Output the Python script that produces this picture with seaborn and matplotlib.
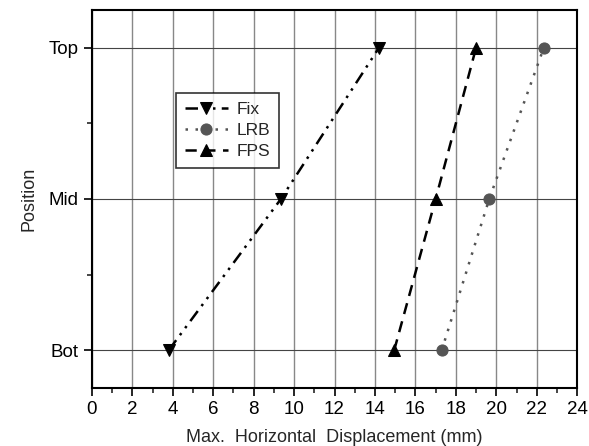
import matplotlib
matplotlib.use("Agg")
import matplotlib.pyplot as plt
import seaborn as sns
from matplotlib.ticker import MultipleLocator

# data
positions = [1, 2, 3]          # Bot, Mid, Top
pos_labels = ["Bot", "Mid", "Top"]
fix = [3.8, 9.35, 14.2]
lrb = [17.3, 19.65, 22.35]
fps = [14.95, 17.0, 19.0]

sns.set_style("ticks")
plt.rcParams['font.family'] = ['Liberation Sans', 'DejaVu Sans']

fig = plt.figure(figsize=(5.89, 4.46), dpi=100)
ax = fig.add_axes([0.156, 0.130, 0.824, 0.848])

# grid
ax.set_axisbelow(True)
ax.grid(axis='x', which='major', color='#888888', lw=1.0)
ax.grid(axis='y', which='major', color='#444444', lw=0.8)

sns.lineplot(x=fix, y=positions, sort=False, ax=ax, color='black', lw=1.8,
             linestyle=(0, (5, 2.5, 1, 2.5, 1, 2.5)), marker='v', markersize=9,
             markeredgecolor='black', label='Fix')
sns.lineplot(x=lrb, y=positions, sort=False, ax=ax, color='#555555', lw=1.8,
             linestyle=(0, (1, 3)), marker='o', markersize=8,
             markeredgecolor='#555555', label='LRB')
sns.lineplot(x=fps, y=positions, sort=False, ax=ax, color='black', lw=1.8,
             linestyle=(0, (4.5, 3)), marker='^', markersize=9,
             markeredgecolor='black', label='FPS')

ax.set_xlim(0, 24)
ax.set_ylim(0.75, 3.25)
ax.xaxis.set_major_locator(MultipleLocator(2))
ax.xaxis.set_minor_locator(MultipleLocator(1))
ax.set_yticks(positions)
ax.set_yticklabels(pos_labels)
ax.yaxis.set_minor_locator(MultipleLocator(0.5))
ax.tick_params(which='major', length=6, width=1.2, labelsize=13.5, colors='black')
ax.tick_params(which='minor', length=3.5, width=1.2)
for s in ax.spines.values():
    s.set_linewidth(1.5)
    s.set_color('black')

ax.set_xlabel("Max.  Horizontal  Displacement (mm)", fontsize=13, labelpad=8)
ax.set_ylabel("Position", fontsize=13, labelpad=8)

leg = ax.legend(loc='upper left', bbox_to_anchor=(0.173, 0.78), frameon=True,
                fancybox=False, edgecolor='black', fontsize=12.5,
                handlelength=2.5, handletextpad=0.5, borderpad=0.5,
                labelspacing=0.35, borderaxespad=0)
leg.get_frame().set_linewidth(1.2)

fig.savefig("out.png", dpi=100)
